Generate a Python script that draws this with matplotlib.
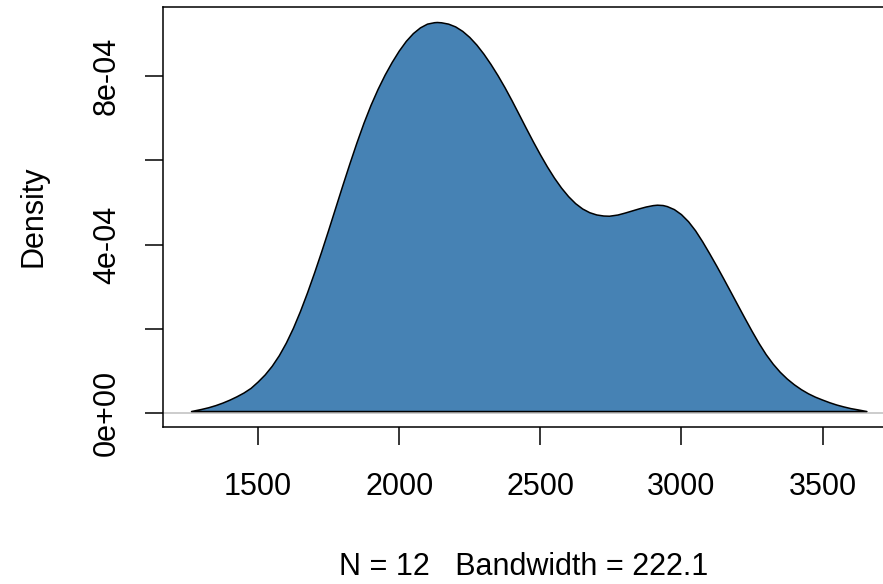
import matplotlib
matplotlib.use("Agg")
import matplotlib.pyplot as plt

plt.rcParams['font.family'] = ['Liberation Sans', 'DejaVu Sans']

# Density curve (x, density in units of 1e-4)
dens_x = [1264, 1300, 1325, 1350, 1375, 1400, 1425, 1450, 1475, 1500, 1525, 1550,
          1575, 1600, 1625, 1650, 1675, 1700, 1725, 1750, 1775, 1800, 1825, 1850,
          1875, 1900, 1925, 1950, 1975, 2000, 2025, 2050, 2075, 2100, 2125, 2135,
          2150, 2175, 2200, 2225, 2250, 2275, 2300, 2325, 2350, 2375, 2400, 2425,
          2450, 2475, 2500, 2525, 2550, 2575, 2600, 2625, 2650, 2675, 2700, 2725,
          2745, 2775, 2800, 2825, 2850, 2875, 2900, 2915, 2935, 2950, 2975, 3000,
          3025, 3050, 3075, 3100, 3125, 3150, 3175, 3200, 3225, 3250, 3275, 3300,
          3325, 3350, 3375, 3400, 3425, 3450, 3475, 3500, 3525, 3550, 3575, 3600,
          3625, 3657]
dens_y_e4 = [0.04, 0.09, 0.13, 0.18, 0.24, 0.31, 0.39, 0.48, 0.59, 0.74, 0.909, 1.115,
             1.365, 1.665, 2.015, 2.415, 2.856, 3.329, 3.826, 4.342, 4.871, 5.400, 5.916, 6.414,
             6.883, 7.308, 7.687, 8.026, 8.327, 8.596, 8.827, 9.011, 9.147, 9.236, 9.270, 9.275,
             9.268, 9.236, 9.170, 9.064, 8.920, 8.739, 8.524, 8.280, 8.013, 7.724, 7.414, 7.090,
             6.764, 6.444, 6.137, 5.847, 5.581, 5.345, 5.142, 4.975, 4.848, 4.760, 4.706, 4.681,
             4.676, 4.705, 4.750, 4.800, 4.850, 4.895, 4.928, 4.938, 4.930, 4.905, 4.833, 4.714,
             4.546, 4.330, 4.070, 3.786, 3.492, 3.187, 2.876, 2.563, 2.252, 1.947, 1.656, 1.392,
             1.165, 0.972, 0.811, 0.675, 0.559, 0.461, 0.380, 0.313, 0.250, 0.195, 0.150, 0.110,
             0.080, 0.040]
dens_y = [v * 1e-4 for v in dens_y_e4]

x_ticks = [1500, 2000, 2500, 3000, 3500]
x_tick_labels = ["1500", "2000", "2500", "3000", "3500"]
y_ticks = [0, 2e-4, 4e-4, 6e-4, 8e-4]
y_tick_labels = ["0e+00", "", "4e-04", "", "8e-04"]
x_label = "N = 12   Bandwidth = 222.1"
y_label = "Density"

W, H = 883, 584
fig = plt.figure(figsize=(W / 100, H / 100), dpi=100)
ax = fig.add_axes([163.3 / W, 1 - 426.7 / H, (894 - 163.3) / W, (426.7 - 6.7) / H])

ax.axhline(0, color="#BEBEBE", lw=1.1, zorder=1)
ax.fill(dens_x, dens_y, facecolor="#4682B4", edgecolor="black", lw=1.1,
        joinstyle="round", zorder=2)

ax.set_xlim(1164, 3753)
ax.set_ylim(-3.2e-5, 9.65e-4)

ax.set_xticks(x_ticks)
ax.set_xticklabels(x_tick_labels)
ax.set_yticks(y_ticks)
ax.set_yticklabels(y_tick_labels)

for s in ax.spines.values():
    s.set_linewidth(1.1)
    s.set_color("black")

ax.tick_params(axis="both", length=13, width=1.1, color="black", labelsize=22,
               labelcolor="black")
ax.tick_params(axis="x", pad=36.2)
ax.tick_params(axis="y", pad=21.8)

for lab in ax.get_xticklabels():
    lab.set_va("baseline")
for lab in ax.get_yticklabels():
    lab.set_rotation(90)
    lab.set_rotation_mode("anchor")
    lab.set_ha("center")
    lab.set_va("baseline")

ax.set_xlabel(x_label, fontsize=22)
ax.xaxis.label.set_va("baseline")
ax.xaxis.set_label_coords(0.5 * (883 - 163.3) / (894 - 163.3), (426.7 - 575) / 420)

ax.set_ylabel(y_label, fontsize=22)
ax.yaxis.label.set(rotation_mode="anchor", ha="center", va="baseline")
ax.yaxis.set_label_coords((41.7 - 163.3) / (894 - 163.3), 0.5)

fig.savefig("out.png", dpi=100)
